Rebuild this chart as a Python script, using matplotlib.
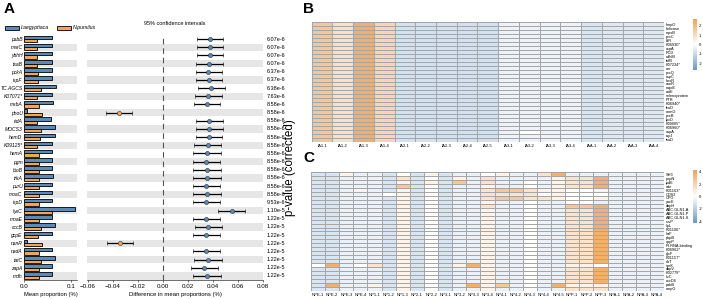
import matplotlib
matplotlib.use('Agg')
import matplotlib.pyplot as plt
import numpy as np
from matplotlib import transforms
from matplotlib.colors import LinearSegmentedColormap, Normalize
from matplotlib.colorbar import ColorbarBase
from matplotlib.patches import Patch

plt.rcParams['font.family'] = ['Liberation Sans', 'DejaVu Sans']

# ---- panel A data ----
genes = ['pabB', 'marC', 'ybhH', 'tsaB', 'pckA', 'ispF', 'TC.AGCS', 'K07071*', 'msbA', 'phoU',
         'ridA', 'MOCS3', 'hemD', 'K09125*', 'hemA', 'pgm', 'bioB', 'trkA', 'purU', 'moaC',
         'ispD', 'lysC', 'moaE', 'cccB', 'gcpE', 'nanR', 'nadA', 'tatC', 'zapA', 'mdh']
mean_aeg = [0.059, 0.059, 0.059, 0.060, 0.060, 0.060, 0.068, 0.060, 0.061, 0.006,
            0.058, 0.067, 0.067, 0.059, 0.059, 0.060, 0.060, 0.061, 0.060, 0.060,
            0.060, 0.108, 0.060, 0.067, 0.060, 0.007, 0.060, 0.067, 0.060, 0.059]
mean_pum = [0.028, 0.028, 0.028, 0.028, 0.029, 0.029, 0.036, 0.028, 0.033, 0.038,
            0.027, 0.036, 0.034, 0.028, 0.031, 0.031, 0.031, 0.033, 0.033, 0.031,
            0.031, 0.060, 0.031, 0.037, 0.029, 0.038, 0.031, 0.037, 0.033, 0.031]
diff = [0.0376, 0.0376, 0.0373, 0.0371, 0.0363, 0.0368, 0.0387, 0.0363, 0.0352, -0.0352,
        0.0371, 0.0371, 0.0368, 0.0357, 0.0349, 0.0344, 0.0349, 0.0349, 0.0344, 0.0349,
        0.0344, 0.0549, 0.0344, 0.0363, 0.0344, -0.0344, 0.0344, 0.0357, 0.0331, 0.0349]
ci_low = [0.0275, 0.0275, 0.0269, 0.0267, 0.0261, 0.0261, 0.0283, 0.0256, 0.0245, -0.0456,
          0.0261, 0.0267, 0.0261, 0.0248, 0.0237, 0.0237, 0.0243, 0.0243, 0.0237, 0.0243,
          0.0237, 0.0443, 0.0237, 0.0256, 0.0237, -0.0450, 0.0237, 0.0248, 0.0224, 0.0243]
ci_high = [0.0483, 0.0483, 0.0483, 0.0477, 0.0469, 0.0475, 0.0493, 0.0469, 0.0459, -0.0246,
           0.0483, 0.0477, 0.0475, 0.0464, 0.0461, 0.0456, 0.0461, 0.0461, 0.0456, 0.0461,
           0.0456, 0.0656, 0.0456, 0.0475, 0.0456, -0.0237, 0.0456, 0.0469, 0.0437, 0.0461]
pvals = ['6.07e-6', '6.07e-6', '6.07e-6', '6.07e-6', '6.37e-6', '6.37e-6', '6.38e-6', '7.63e-6',
         '8.58e-6', '8.58e-6', '8.58e-6', '8.58e-6', '8.58e-6', '8.58e-6', '8.58e-6', '8.58e-6',
         '8.58e-6', '8.58e-6', '8.58e-6', '8.58e-6', '9.53e-6', '1.10e-5', '1.22e-5', '1.22e-5',
         '1.22e-5', '1.22e-5', '1.22e-5', '1.22e-5', '1.22e-5', '1.22e-5']

# ---- panel B data ----
b_cols = ['IA1-1', 'IA1-2', 'IA1-3', 'IA1-4', 'IA2-1', 'IA2-2', 'IA2-3', 'IA2-4', 'IA2-5',
          'IA3-1', 'IA3-2', 'IA3-3', 'IA3-4', 'IAA-1', 'IAA-2', 'IAA-3', 'IAA-4']
b_rows = ['rlmpO', 'helicase', 'mpsB', 'pccC', 'fdR', 'K06930*', 'cspA', 'PCD', 'ndhM', 'tufB',
          'K07234*', 'aer', 'pccQ', 'cspC', 'hexR', 'cueR', 'mqoE', 'cutE', 'selenoprotein', 'FTR',
          'K06940*', 'leuD', 'anmG', 'pccB', 'lpxD', 'K09005*', 'K06960*', 'aspA', 'rspJ', 'tsaD']
b_levels = {'H': 2.35, 'G': 1.65, 'F': 1.2, 'E': 0.9, 'w': 0.0,
            'a': -0.3, 'b': -0.57, 'c': -0.68, 'd': -0.78}
b_cells = ['GEHFdddddaaaacbbb'] * 27 + ['GEHFdddddawaacbbb', 'GEHFdddddaaaacbbb', 'GEHFdddddaaaacbbb']

# ---- panel C data ----
c_cols = ['NPE-1', 'NPE-2', 'NPE-3', 'NPE-4', 'NP1-1', 'NP1-2', 'NP1-3', 'NP2-1', 'NP2-2',
          'NP3-1', 'NP3-2', 'NP3-3', 'NP3-4', 'NP4-1', 'NP4-2', 'NP4-3', 'NP4-4', 'NP4-5',
          'NPP-1', 'NPP-2', 'NPP-3', 'NPA-1', 'NPA-2', 'NPA-3', 'NPA-4']
c_rows = ['SH3', 'pepN', 'ipdE', 'ade', 'K01163*', 'CDS2', 'CPG', 'yacE', 'dapH', 'ABC.GLN1.A',
          'ABC.GLN1.P', 'ABC.GLN1.S', 'ruvP', 'lipL', 'K01106*', 'lsrF', 'pbpB', 'uppP',
          'RI.RNA.binding', 'K06962*', 'glcF', 'K01157*', 'nbT', 'sprK', 'dapV', 'K02779*',
          'ilvC', 'accD6', 'pabB', 'ampG']
c_levels = {'O': 3.7, 'o': 2.6, 'l': 1.3, 'p': 0.55, 'w': 0.0, 'c': -0.6, 'b': -1.1}
c_cells = ['bbpccbwbpbccwpcclOccccccc',
           'bbcccblbwbpclccccpllOcccc',
           'bbcccbpbpboclccwcpllOcccc',
           'bbcccbobwbccpccwcpllOcccc',
           'bbcpcbpbwbccloolppwwpcccc',
           'bbcccwpbwbccllllwpwwwcccc',
           'bbcccbpbwbccloollpwwpcccc',
           'bbcccbpbwbccpccwccwwccccc',
           'bbcccbpbwbcclccwccooOcccc'] + \
          ['bbcccbpbwbccpccwccllOcccc'] * 14 + \
          ['wOcwlbpbwbpOpccwccppwcccc'] + \
          ['bbcccbpbwbccpccwccllOcccc'] * 4 + \
          ['bOccpbpbwbcOpocwcOpppcccc',
           'bbcccbpbwbccpccwcclllcccc']

blue = '#5a8ab5'
orange = '#f2a457'
band = '#e6e6e6'
cmap = LinearSegmentedColormap.from_list('bwo', ['#6699cc', '#ffffff', '#f4a154'])

fig = plt.figure(figsize=(7.03, 2.99), dpi=100)
W, H = 703.0, 299.0
n = len(genes)
y = np.arange(n)

# bars
ax1 = fig.add_axes([24 / W, 1 - 280 / H, 53 / W, 245 / H])
for i in range(1, n, 2):
    ax1.axhspan(i - 0.45, i + 0.45, color=band, lw=0, zorder=0)
ax1.barh(y - 0.21, mean_aeg, height=0.42, color=blue, edgecolor='black', lw=0.6, zorder=2)
ax1.barh(y + 0.2, mean_pum, height=0.38, color=orange, edgecolor='black', lw=0.6, zorder=2)
ax1.set_ylim(n - 0.5, -0.5)
ax1.set_xlim(0, 0.113)
ax1.set_yticks(y)
ax1.set_yticklabels(genes, fontstyle='italic', fontsize=3.6)
ax1.set_xticks([0.0, 0.1])
ax1.set_xticklabels(['0.0', '0.1'])
ax1.tick_params(axis='y', length=0, pad=1)
ax1.tick_params(axis='x', length=1.5, width=0.4, labelsize=4.5, pad=1.5)
ax1.set_xlabel('Mean proportion (%)', fontsize=4.2, labelpad=2)
for s in ['top', 'right', 'left']:
    ax1.spines[s].set_visible(False)
ax1.spines['bottom'].set_linewidth(0.4)

# confidence intervals
ax2 = fig.add_axes([87 / W, 1 - 280 / H, 176 / W, 245 / H])
for i in range(1, n, 2):
    ax2.axhspan(i - 0.45, i + 0.45, color=band, lw=0, zorder=0)
ax2.axvline(0, color='#555555', lw=0.8, ls=(0, (5, 3.5)), zorder=1)
for i in range(n):
    c = blue if diff[i] > 0 else orange
    ax2.errorbar(diff[i], i, xerr=[[diff[i] - ci_low[i]], [ci_high[i] - diff[i]]],
                 fmt='o', color=c, ecolor='black', elinewidth=0.9, capsize=1.2, capthick=0.6,
                 markersize=3, mec='#333333', mew=0.4, zorder=3)
ax2.set_ylim(n - 0.5, -0.5)
ax2.set_xlim(-0.0608, 0.08)
ax2.set_xticks([-0.06, -0.04, -0.02, 0.0, 0.02, 0.04, 0.06, 0.08])
ax2.set_xticklabels(['\u22120.06', '\u22120.04', '\u22120.02', '0.00', '0.02', '0.04', '0.06', '0.08'])
ax2.set_yticks([])
ax2.tick_params(axis='x', length=1.5, width=0.4, labelsize=4.5, pad=1.5)
ax2.set_xlabel('Difference in mean proportions (%)', fontsize=4.3, labelpad=2)
ax2.set_title('95% confidence intervals', fontsize=4, pad=7)
for s in ['top', 'right', 'left']:
    ax2.spines[s].set_visible(False)
ax2.spines['bottom'].set_linewidth(0.4)
tr = transforms.blended_transform_factory(ax2.transAxes, ax2.transData)
for i in range(n):
    ax2.text(1.023, i, pvals[i], transform=tr, fontsize=4, va='center', ha='left')

fig.legend(handles=[Patch(fc=blue, ec='black', lw=0.6, label='I.aegyptiaca'),
                    Patch(fc=orange, ec='black', lw=0.6, label='N.pumilus')],
           loc='center left', bbox_to_anchor=(0.004, 1 - 28 / H), ncol=2, frameon=False,
           prop={'style': 'italic', 'size': 3.8}, handlelength=2.6, handleheight=0.8,
           handletextpad=0.4, columnspacing=1.5, borderaxespad=0)

fig.text(290 / W, 1 - 168 / H, 'p-value (corrected)', rotation=90, fontsize=8.3,
         ha='center', va='center')


def heatmap(rect, cells, levels, rows, cols, norm, cbar_rect, cticks):
    mat = np.array([[levels[ch] for ch in r] for r in cells])
    ax = fig.add_axes(rect)
    ax.pcolormesh(mat, cmap=cmap, norm=norm, edgecolors='#a6a6a6', linewidth=0.5)
    ax.set_xlim(0, mat.shape[1])
    ax.set_ylim(mat.shape[0], 0)
    ax.set_xticks(np.arange(mat.shape[1]) + 0.5)
    ax.set_xticklabels(cols, fontsize=3)
    ax.set_yticks(np.arange(mat.shape[0]) + 0.5)
    ax.set_yticklabels(rows, fontsize=2.8)
    ax.yaxis.tick_right()
    ax.tick_params(length=0, pad=1.5)
    for s in ax.spines.values():
        s.set_visible(False)
    cax = fig.add_axes(cbar_rect)
    cb = ColorbarBase(cax, cmap=cmap, norm=norm)
    cb.outline.set_visible(False)
    cb.set_ticks(cticks)
    cb.set_ticklabels([str(t) for t in cticks])
    cax.tick_params(length=0, labelsize=3, pad=1.5)
    return ax


heatmap([311.7 / W, 1 - 141.7 / H, 352.3 / W, 119.4 / H], b_cells, b_levels, b_rows, b_cols,
        Normalize(-2.7, 2.7), [693 / W, 1 - 70 / H, 4 / W, 51 / H], [2, 1, 0, -1, -2])
heatmap([311 / W, 1 - 290.7 / H, 353 / W, 118.4 / H], c_cells, c_levels, c_rows, c_cols,
        Normalize(-4.3, 4.3), [693 / W, 1 - 223 / H, 4 / W, 53 / H], [4, 2, 0, -2, -4])

fig.text(4 / W, 1 - 2 / H, 'A', fontsize=11, fontweight='bold', va='top', ha='left')
fig.text(303 / W, 1 - 2 / H, 'B', fontsize=11, fontweight='bold', va='top', ha='left')
fig.text(303 / W, 1 - 151 / H, 'C', fontsize=11, fontweight='bold', va='top', ha='left')

fig.savefig('out.png', dpi=100)
